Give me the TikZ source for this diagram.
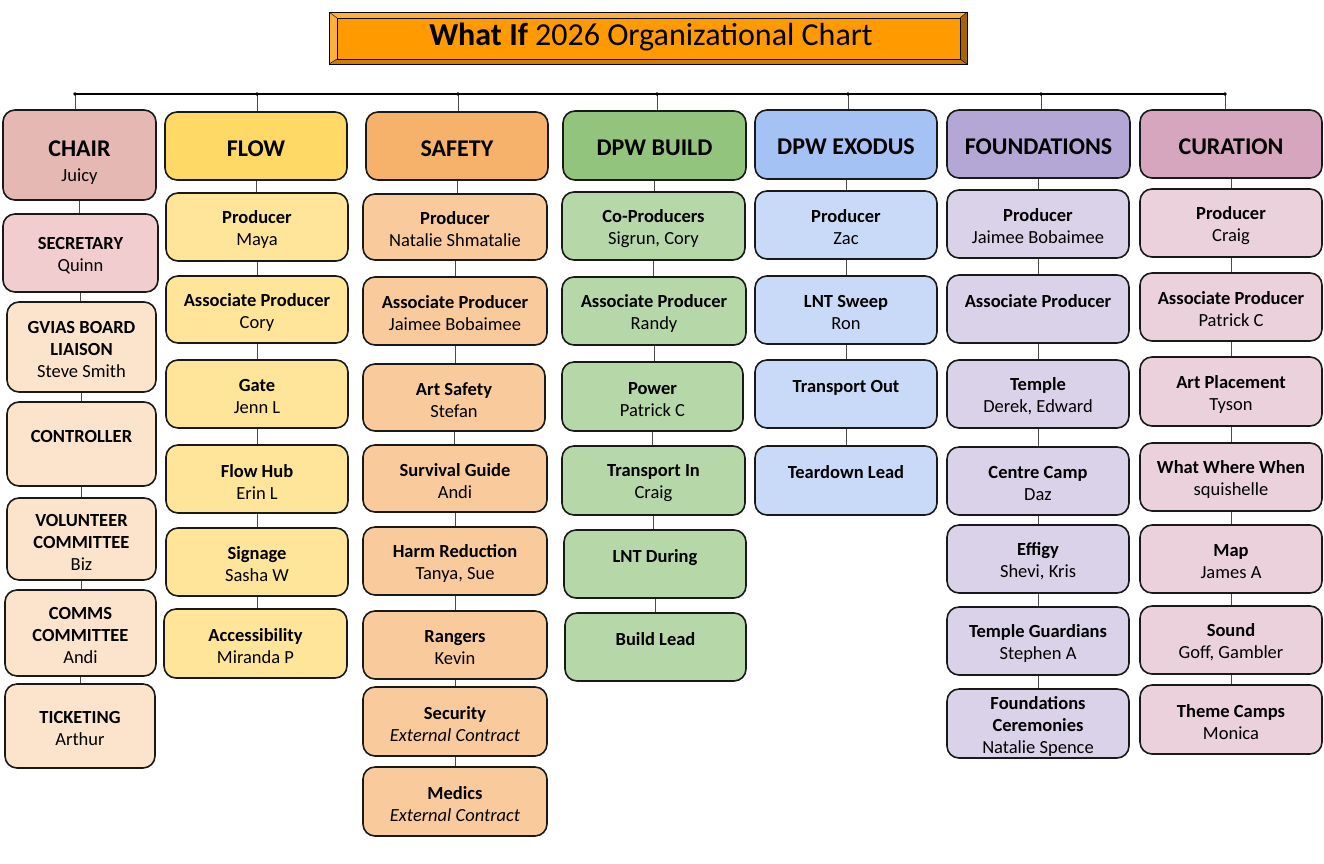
\documentclass[tikz,border=0pt]{standalone}
\usepackage{fontspec}
\setmainfont{Carlito}
\definecolor{chairH}{HTML}{E6B8B3}
\definecolor{secS}{HTML}{F2CDD0}
\definecolor{peachS}{HTML}{FCE4CC}
\definecolor{flowH}{HTML}{FFD966}
\definecolor{flowS}{HTML}{FFE599}
\definecolor{safH}{HTML}{F6B26B}
\definecolor{safS}{HTML}{F9CB9C}
\definecolor{buildH}{HTML}{93C47D}
\definecolor{buildS}{HTML}{B6D7A8}
\definecolor{exoH}{HTML}{A4C2F4}
\definecolor{exoS}{HTML}{C9DAF8}
\definecolor{fndH}{HTML}{B4A7D6}
\definecolor{fndS}{HTML}{D9D2E9}
\definecolor{curH}{HTML}{D5A6BD}
\definecolor{curS}{HTML}{EAD1DC}
\definecolor{titleO}{HTML}{FF9A00}
\definecolor{bevL}{HTML}{FFB03A}
\definecolor{bevD}{HTML}{CC7A00}
\definecolor{bevR}{HTML}{A86400}
\tikzset{
  box/.style={draw=black!90, line width=1.6pt, rounded corners=12pt, align=center, inner sep=0pt,
    font=\fontsize{18.5}{22}\selectfont},
  conn/.style={draw=black!70, line width=0.9pt},
  topline/.style={draw=black, line width=1.4pt},
}
\newcommand\bx[7]{\node[box,fill=#6,minimum width={(#4-#2)*1pt},minimum height={(#5-#3)*1pt}] (#1) at ({(#2+#4)/2},{(#3+#5)/2}) {#7};}
\newcommand\up{\rule{0pt}{18pt}}
\newcommand\hd[2]{\fontsize{24}{25}\selectfont\rule{0pt}{30pt}\textbf{#1}\\[3pt]\fontsize{18.5}{22}\selectfont #2}
\newcommand\hdo[1]{\fontsize{24}{25}\selectfont\rule{0pt}{21pt}\textbf{#1}}
\newcommand\rl[2]{\up\textbf{#1}\\#2}
\newcommand\one[1]{\up\textbf{#1}\\\mbox{}}
\newcommand\cc[2]{\draw[conn] (#1.south) -- (#1.south |- #2.north);}
\begin{document}
\begin{tikzpicture}[x=1pt,y=-1pt]
\useasboundingbox (0,0) rectangle (1324,863);
% title
\fill[titleO] (329,12) rectangle (967,64);
\fill[bevL] (329,12) -- (967,12) -- (960,18) -- (337,18) -- cycle;
\fill[bevL] (329,12) -- (337,18) -- (337,59) -- (329,64) -- cycle;
\fill[bevD] (329,64) -- (337,59) -- (960,59) -- (967,64) -- cycle;
\fill[bevR] (967,12) -- (960,18) -- (960,59) -- (967,64) -- cycle;
\draw[line width=0.8pt] (329,12) rectangle (967,64);
\draw[line width=0.8pt] (337,18) rectangle (960,59);
\draw[line width=0.4pt] (329,12) -- (337,18) (967,12) -- (960,18) (329,64) -- (337,59) (967,64) -- (960,59);
\node[inner sep=0pt] (title) at (651,37) {\fontsize{32}{36}\selectfont\textbf{What If} 2026 Organizational Chart};
% column 1
\bx{a1}{3}{110}{156}{200}{chairH}{\hd{CHAIR}{Juicy}}
\bx{a2}{3}{214}{158}{292}{secS}{\rl{SECRETARY}{Quinn}}
\bx{a3}{7}{302}{156}{392}{peachS}{\up\textbf{GVIAS BOARD}\\\textbf{LIAISON}\\Steve Smith}
\bx{a4}{7}{402}{156}{486}{peachS}{\one{CONTROLLER}}
\bx{a5}{7}{498}{156}{580}{peachS}{\up\textbf{VOLUNTEER}\\\textbf{COMMITTEE}\\Biz}
\bx{a6}{5}{590}{156}{676}{peachS}{\up\textbf{COMMS}\\\textbf{COMMITTEE}\\Andi}
\bx{a7}{5}{684}{155}{768}{peachS}{\rl{TICKETING}{Arthur}}
% column 2
\bx{b1}{165}{112}{347}{180}{flowH}{\hdo{FLOW}}
\bx{b2}{166}{193}{348}{261}{flowS}{\rl{Producer}{Maya}}
\bx{b3}{166}{276}{348}{343}{flowS}{\rl{Associate Producer}{Cory}}
\bx{b4}{166}{360}{348}{428}{flowS}{\rl{Gate}{Jenn L}}
\bx{b5}{166}{445}{348}{513}{flowS}{\rl{Flow Hub}{Erin L}}
\bx{b6}{166}{528}{348}{596}{flowS}{\rl{Signage}{Sasha W}}
\bx{b7}{164}{609}{347}{678}{flowS}{\rl{Accessibility}{Miranda P}}
% column 3
\bx{c1}{366}{112}{548}{180}{safH}{\hdo{SAFETY}}
\bx{c2}{363}{194}{547}{260}{safS}{\rl{Producer}{Natalie Shmatalie}}
\bx{c3}{363}{277}{547}{345}{safS}{\rl{Associate Producer}{Jaimee Bobaimee}}
\bx{c4}{363}{364}{545}{431}{safS}{\rl{Art Safety}{Stefan}}
\bx{c5}{363}{445}{547}{512}{safS}{\rl{Survival Guide}{Andi}}
\bx{c6}{363}{527}{547}{595}{safS}{\rl{Harm Reduction}{Tanya, Sue}}
\bx{c7}{363}{611}{547}{679}{safS}{\rl{Rangers}{Kevin}}
\bx{c8}{363}{687}{547}{756}{safS}{\rl{Security}{\textit{External Contract}}}
\bx{c9}{363}{767}{547}{836}{safS}{\rl{Medics}{\textit{External Contract}}}
% column 4
\bx{d1}{563}{111}{746}{180}{buildH}{\hdo{DPW BUILD}}
\bx{d2}{562}{192}{745}{260}{buildS}{\rl{Co-Producers}{Sigrun, Cory}}
\bx{d3}{562}{277}{746}{345}{buildS}{\rl{Associate Producer}{Randy}}
\bx{d4}{562}{362}{743}{431}{buildS}{\rl{Power}{Patrick C}}
\bx{d5}{562}{446}{745}{515}{buildS}{\rl{Transport In}{Craig}}
\bx{d6}{564}{530}{746}{598}{buildS}{\one{LNT During}}
\bx{d7}{565}{613}{746}{681}{buildS}{\one{Build Lead}}
% column 5
\bx{e1}{755}{110}{937}{179}{exoH}{\hdo{DPW EXODUS}}
\bx{e2}{755}{191}{937}{259}{exoS}{\rl{Producer}{Zac}}
\bx{e3}{755}{276}{937}{344}{exoS}{\rl{LNT Sweep}{Ron}}
\bx{e4}{755}{360}{937}{428}{exoS}{\one{Transport Out}}
\bx{e5}{755}{446}{937}{515}{exoS}{\one{Teardown Lead}}
% column 6
\bx{f1}{947}{110}{1130}{178}{fndH}{\hdo{FOUNDATIONS}}
\bx{f2}{947}{190}{1129}{258}{fndS}{\rl{Producer}{Jaimee Bobaimee}}
\bx{f3}{947}{275}{1129}{343}{fndS}{\one{Associate Producer}}
\bx{f4}{947}{360}{1129}{428}{fndS}{\rl{Temple}{Derek, Edward}}
\bx{f5}{947}{447}{1129}{515}{fndS}{\rl{Centre Camp}{Daz}}
\bx{f6}{947}{525}{1129}{593}{fndS}{\rl{Effigy}{Shevi, Kris}}
\bx{f7}{947}{607}{1129}{675}{fndS}{\rl{Temple Guardians}{Stephen A}}
\bx{f8}{947}{689}{1129}{758}{fndS}{\up\textbf{Foundations}\\\textbf{Ceremonies}\\Natalie Spence}
% column 7
\bx{g1}{1140}{110}{1322}{178}{curH}{\hdo{CURATION}}
\bx{g2}{1140}{189}{1322}{257}{curS}{\rl{Producer}{Craig}}
\bx{g3}{1140}{273}{1322}{341}{curS}{\rl{Associate Producer}{Patrick C}}
\bx{g4}{1140}{357}{1322}{426}{curS}{\rl{Art Placement}{Tyson}}
\bx{g5}{1140}{443}{1322}{511}{curS}{\rl{What Where When}{squishelle}}
\bx{g6}{1140}{525}{1322}{593}{curS}{\rl{Map}{James A}}
\bx{g7}{1140}{606}{1322}{674}{curS}{\rl{Sound}{Goff, Gambler}}
\bx{g8}{1140}{685}{1322}{754}{curS}{\rl{Theme Camps}{Monica}}
% top connectors
\coordinate (t1) at (75,94);
\coordinate (t2) at (257,94);
\coordinate (t3) at (458,94);
\coordinate (t4) at (657,94);
\coordinate (t5) at (848,94);
\coordinate (t6) at (1041,94);
\coordinate (t7) at (1225,94);
\draw[topline] (t1) -- (t7);
\foreach \t/\h in {t1/a1,t2/b1,t3/c1,t4/d1,t5/e1,t6/f1,t7/g1}{
  \draw[conn] (\t) -- (\t |- \h.north);
  \fill (\t) circle (1.8);
}
% column connectors
\cc{a1}{a2}\cc{a2}{a3}\cc{a3}{a4}\cc{a4}{a5}\cc{a5}{a6}\cc{a6}{a7}
\cc{b1}{b2}\cc{b2}{b3}\cc{b3}{b4}\cc{b4}{b5}\cc{b5}{b6}\cc{b6}{b7}
\cc{c1}{c2}\cc{c2}{c3}\cc{c3}{c4}\cc{c4}{c5}\cc{c5}{c6}\cc{c6}{c7}\cc{c7}{c8}\cc{c8}{c9}
\cc{d1}{d2}\cc{d2}{d3}\cc{d3}{d4}\cc{d4}{d5}\cc{d5}{d6}\cc{d6}{d7}
\cc{e1}{e2}\cc{e2}{e3}\cc{e3}{e4}\cc{e4}{e5}
\cc{f1}{f2}\cc{f2}{f3}\cc{f3}{f4}\cc{f4}{f5}\cc{f5}{f6}\cc{f6}{f7}\cc{f7}{f8}
\cc{g1}{g2}\cc{g2}{g3}\cc{g3}{g4}\cc{g4}{g5}\cc{g5}{g6}\cc{g6}{g7}\cc{g7}{g8}
\end{tikzpicture}
\end{document}
